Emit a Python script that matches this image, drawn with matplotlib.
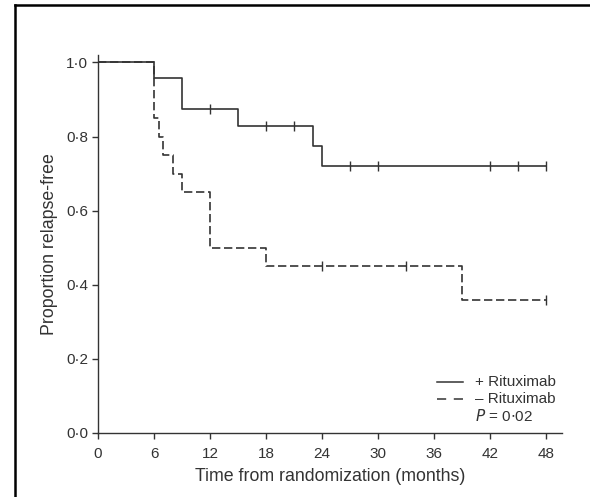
import numpy as np
import matplotlib
matplotlib.use('Agg')
import matplotlib.pyplot as plt
from matplotlib.lines import Line2D

plt.rcParams['font.family'] = ['Liberation Sans', 'DejaVu Sans']

# ── data ────────────────────────────────────────────────────────────────────
# + Rituximab
ritux_t   = [0, 6, 9, 15, 23, 24, 48]
ritux_s   = [1.0, 0.958, 0.875, 0.828, 0.774, 0.72, 0.72]
ritux_cen = [12, 18, 21, 27, 30, 42, 45, 48]
# - Rituximab
ctrl_t    = [0, 6, 6.5, 7, 8, 9, 12, 18, 39, 48]
ctrl_s    = [1.0, 0.85, 0.80, 0.75, 0.70, 0.65, 0.50, 0.45, 0.36, 0.36]
ctrl_cen  = [24, 33, 48]

x_ticks = [0, 6, 12, 18, 24, 30, 36, 42, 48]
y_ticks = [0.0, 0.2, 0.4, 0.6, 0.8, 1.0]

INK = '#333333'
W, H = 590, 497


def surv_at(times, surv, t):
    i = np.searchsorted(times, t, side='right') - 1
    return surv[i]


def fx(px):
    return px / W


def fy(py):
    return 1 - py / H


fig = plt.figure(figsize=(W / 100, H / 100), dpi=100)
ax = fig.add_axes([fx(98), fy(433), (562 - 98) / W, (433 - 55) / H])

for t, s, cen, ls in [(ctrl_t, ctrl_s, ctrl_cen, (0, (5, 2.2))),
                      (ritux_t, ritux_s, ritux_cen, '-')]:
    ax.step(t, s, where='post', color=INK, lw=1.2, ls=ls)
    cy = [surv_at(np.array(t), s, c) for c in cen]
    ax.plot(cen, cy, ls='none', marker='|', ms=7, mew=1.0, color=INK)

ax.set_xlim(0, 49.7)
ax.set_ylim(0, 1.02)
ax.set_xticks(x_ticks)
ax.set_yticks(y_ticks)
ax.set_yticklabels([f'{v:.1f}'.replace('.', '\u00b7') for v in y_ticks])
ax.spines['top'].set_visible(False)
ax.spines['right'].set_visible(False)
for sp in ('left', 'bottom'):
    ax.spines[sp].set_color(INK)
    ax.spines[sp].set_linewidth(1.0)
ax.tick_params(direction='out', length=4, width=1.0, color=INK,
               labelcolor=INK, labelsize=11, pad=3)
ax.tick_params(axis='x', pad=6)

ax.set_xlabel('Time from randomization (months)', fontsize=12.8, color=INK,
              labelpad=5)
ax.set_ylabel('Proportion relapse-free', fontsize=12.8, color=INK,
              labelpad=6)

# legend, laid out by hand like the original
fig.add_artist(Line2D([fx(437), fx(463)], [fy(382), fy(382)], color=INK,
                      lw=1.1, transform=fig.transFigure))
fig.add_artist(Line2D([fx(437), fx(463)], [fy(399), fy(399)], color=INK,
                      lw=1.1, ls=(0, (6, 5)), transform=fig.transFigure))
fig.text(fx(475), fy(382), '+ Rituximab', fontsize=11, color=INK, va='center')
fig.text(fx(475), fy(399), '\u2013 Rituximab', fontsize=11, color=INK, va='center')
fig.text(fx(475), fy(416), r'$P$ = 0$\cdot$02', fontsize=11, color=INK,
         va='center')

# frame lines (top and left) of the original figure box
fig.add_artist(Line2D([fx(15), 1], [fy(5), fy(5)],
                      color='black', lw=1.8, transform=fig.transFigure))
fig.add_artist(Line2D([fx(15), fx(15)], [0, fy(5)],
                      color='black', lw=1.8, transform=fig.transFigure))

fig.savefig('out.png', dpi=100)
